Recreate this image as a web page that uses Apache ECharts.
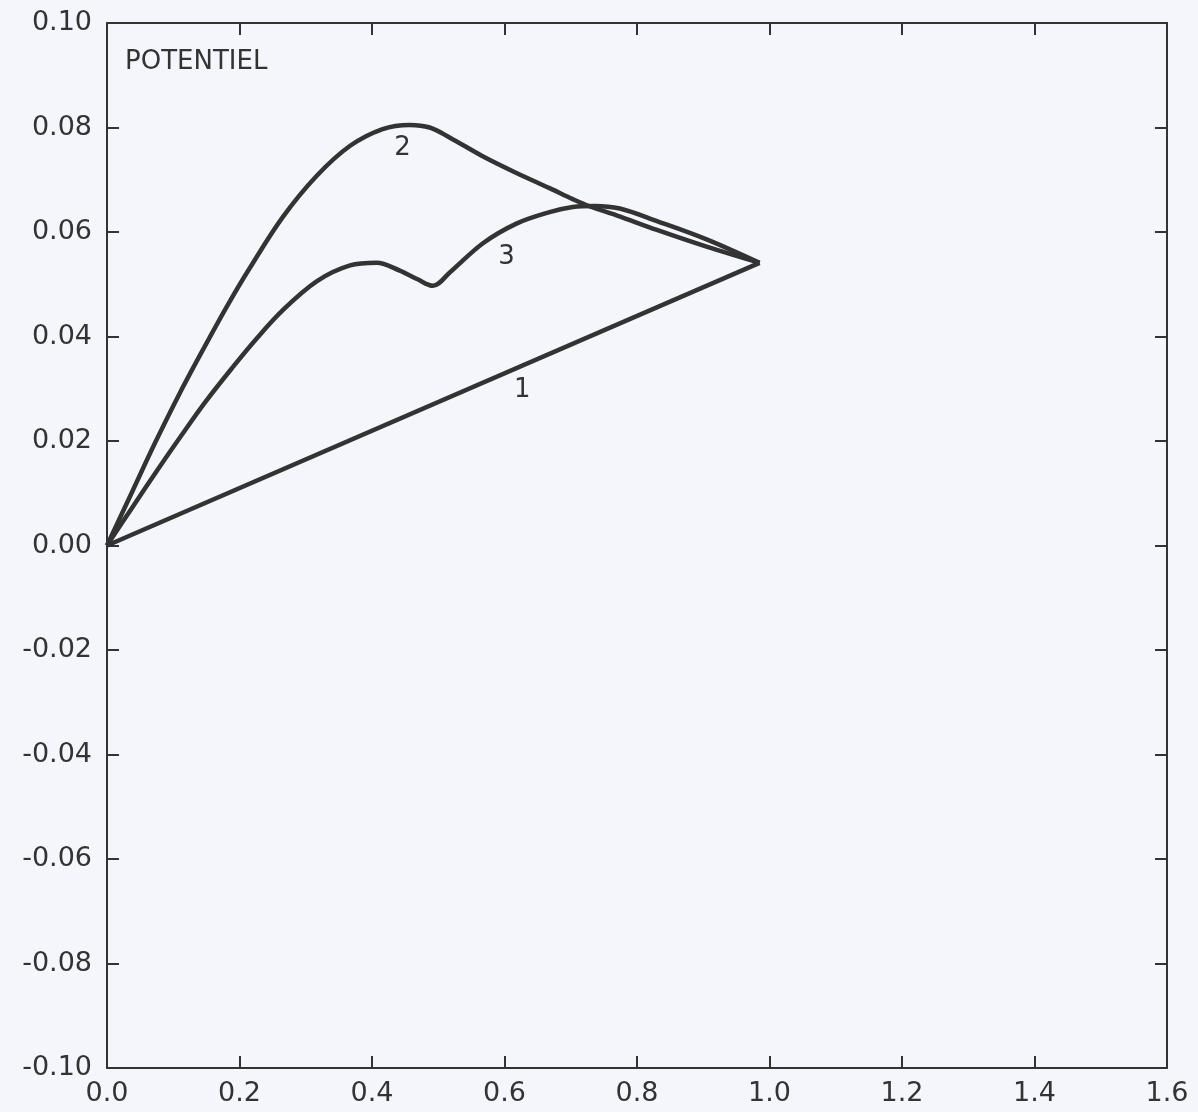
<!DOCTYPE html>
<html>
<head>
<meta charset="utf-8">
<script src="https://cdn.jsdelivr.net/npm/echarts@6/dist/echarts.min.js"></script>
<style>
html,body{margin:0;padding:0;background:#f4f6fb;}
#chart{width:1198px;height:1112px;}
</style>
</head>
<body>
<div id="chart"></div>
<script>
// ---- data ----
const xTicks = [0.0, 0.2, 0.4, 0.6, 0.8, 1.0, 1.2, 1.4, 1.6];
const yTicks = [-0.10, -0.08, -0.06, -0.04, -0.02, 0.00, 0.02, 0.04, 0.06, 0.08, 0.10];

const curve1X = [0.0, 0.985];
const curve1Y = [0.0, 0.0541];

const curve2X = [0.0, 0.0377, 0.0724, 0.110, 0.148, 0.183, 0.216, 0.265, 0.317, 0.367, 0.416, 0.457, 0.487, 0.517, 0.567, 0.618, 0.668, 0.703, 0.729, 0.769, 0.830, 0.905, 0.985];
const curve2Y = [0.0, 0.0102, 0.0196, 0.0292, 0.0382, 0.0462, 0.0532, 0.0628, 0.0708, 0.0765, 0.0797, 0.0805, 0.0800, 0.0781, 0.0745, 0.0713, 0.0684, 0.0663, 0.0649, 0.0632, 0.0604, 0.0572, 0.0541];

const curve3X = [0.0, 0.0377, 0.0769, 0.113, 0.148, 0.189, 0.223, 0.265, 0.317, 0.367, 0.407, 0.442, 0.468, 0.492, 0.517, 0.567, 0.618, 0.668, 0.703, 0.736, 0.774, 0.830, 0.905, 0.985];
const curve3Y = [0.0, 0.0072, 0.0146, 0.0212, 0.0274, 0.0340, 0.0392, 0.0450, 0.0506, 0.0536, 0.0541, 0.0526, 0.0510, 0.0497, 0.0522, 0.0578, 0.0616, 0.0638, 0.0648, 0.0650, 0.0645, 0.0621, 0.0586, 0.0541];

const curveNames = ['1', '2', '3'];
const labelX = [0.627, 0.446, 0.603];
const labelY = [0.0298, 0.0761, 0.0552];

const titleText = 'POTENTIEL';

// ---- chart ----
const zip = (xs, ys) => xs.map((x, i) => [x, ys[i]]);
const FONT = 'DejaVu Sans';
const INK = '#333333';

const lineSeries = (name, xs, ys) => ({
  name: name,
  type: 'line',
  data: zip(xs, ys),
  smooth: 0.35,
  showSymbol: false,
  symbol: 'none',
  lineStyle: { color: INK, width: 4.5 },
  xAxisIndex: 0,
  yAxisIndex: 0,
  z: 3
});

const chart = echarts.init(document.getElementById('chart'), null, { renderer: 'canvas' });

const axisCommon = {
  type: 'value',
  axisLine: { show: true, onZero: false, lineStyle: { color: INK, width: 2 } },
  axisTick: { show: true, inside: true, length: 12, lineStyle: { color: INK, width: 2 } },
  splitLine: { show: false }
};

chart.setOption({
  backgroundColor: '#f4f6fb',
  animation: false,
  grid: { left: 107, right: 31, top: 23, bottom: 44, containLabel: false },
  xAxis: [
    Object.assign({}, axisCommon, {
      position: 'bottom',
      min: xTicks[0], max: xTicks[xTicks.length - 1], interval: 0.2,
      axisLabel: { show: true, color: INK, fontFamily: FONT, fontSize: 27, margin: 12,
        formatter: v => v.toFixed(1) }
    }),
    Object.assign({}, axisCommon, {
      position: 'top',
      min: xTicks[0], max: xTicks[xTicks.length - 1], interval: 0.2,
      axisLabel: { show: false }
    })
  ],
  yAxis: [
    Object.assign({}, axisCommon, {
      position: 'left',
      min: yTicks[0], max: yTicks[yTicks.length - 1], interval: 0.02,
      axisLabel: { show: true, color: INK, fontFamily: FONT, fontSize: 27, margin: 15,
        formatter: v => v.toFixed(2) }
    }),
    Object.assign({}, axisCommon, {
      position: 'right',
      min: yTicks[0], max: yTicks[yTicks.length - 1], interval: 0.02,
      axisLabel: { show: false }
    })
  ],
  title: {
    text: titleText,
    left: 120, top: 44,
    textStyle: { color: INK, fontFamily: FONT, fontSize: 26, fontWeight: 'normal' }
  },
  series: [
    lineSeries(curveNames[0], curve1X, curve1Y),
    lineSeries(curveNames[1], curve2X, curve2Y),
    lineSeries(curveNames[2], curve3X, curve3Y),
    {
      type: 'scatter',
      symbolSize: 0,
      itemStyle: { opacity: 1 },
      data: curveNames.map((n, i) => ({ name: n, value: [labelX[i], labelY[i]] })),
      label: {
        show: true, position: 'inside', formatter: p => p.name,
        color: INK, fontFamily: FONT, fontSize: 26, opacity: 1
      },
      z: 4
    }
  ]
});
</script>
</body>
</html>
